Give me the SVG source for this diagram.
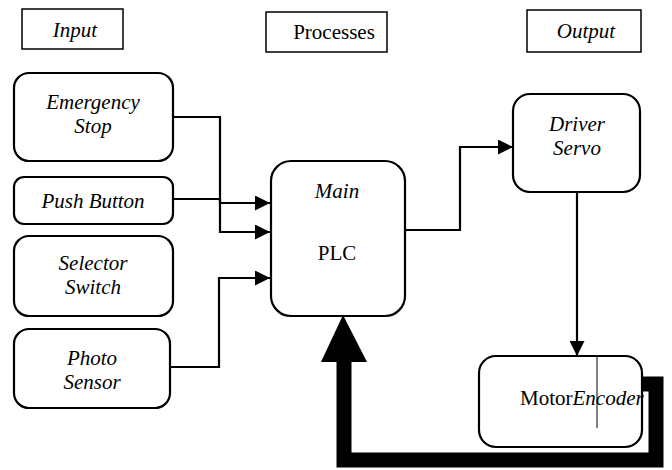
<svg xmlns="http://www.w3.org/2000/svg" width="672" height="470" viewBox="0 0 672 470">
<defs>
  <marker id="arr" markerUnits="userSpaceOnUse" markerWidth="15" markerHeight="15" refX="15" refY="7.5" orient="auto">
    <path d="M0,0 L15,7.5 L0,15 Z" fill="#000"/>
  </marker>
</defs>
<rect width="672" height="470" fill="#fff"/>

<g id="hdr-input"><rect fill="#fff" stroke="#000" stroke-width="1.5" x="22" y="9" width="101" height="40"/><text font-family="Times New Roman, Liberation Serif, serif" font-size="21" font-style="italic" text-anchor="middle" x="75" y="37">Input</text></g>
<g id="hdr-processes"><rect fill="#fff" stroke="#000" stroke-width="1.5" x="266" y="12" width="121" height="40"/><text font-family="Times New Roman, Liberation Serif, serif" font-size="21" text-anchor="middle" x="334" y="39">Processes</text></g>
<g id="hdr-output"><rect fill="#fff" stroke="#000" stroke-width="1.5" x="527" y="10" width="114" height="42"/><text font-family="Times New Roman, Liberation Serif, serif" font-size="21" font-style="italic" text-anchor="middle" x="586" y="38">Output</text></g>

<g id="connectors" fill="none" stroke="#000" stroke-width="2.2">
  <polyline points="173,117 220,117 220,232 270,232" marker-end="url(#arr)"/>
  <polyline points="173,199 220,199 220,203 270,203" marker-end="url(#arr)"/>
  <polyline points="170,367 219,367 219,278 270,278" marker-end="url(#arr)"/>
  <polyline points="405,230 460,230 460,147 513,147" marker-end="url(#arr)"/>
  <line x1="577" y1="192" x2="577" y2="356" marker-end="url(#arr)"/>
  <path d="M640 384 H656 V460 H344 V358" stroke-width="15" stroke-linejoin="miter"/>
  <polygon points="343,315 321,362 367,362" fill="#000" stroke="none"/>
</g>

<g id="n-emergency"><rect fill="#fff" stroke="#000" stroke-width="2.2" x="14" y="73" width="159" height="88" rx="15"/><text font-family="Times New Roman, Liberation Serif, serif" font-size="21" font-style="italic" text-anchor="middle" x="93" y="109">Emergency</text><text font-family="Times New Roman, Liberation Serif, serif" font-size="21" font-style="italic" text-anchor="middle" x="93" y="133">Stop</text></g>
<g id="n-push"><rect fill="#fff" stroke="#000" stroke-width="2.2" x="14" y="177" width="159" height="47" rx="10"/><text font-family="Times New Roman, Liberation Serif, serif" font-size="21" font-style="italic" text-anchor="middle" x="93" y="208">Push Button</text></g>
<g id="n-selector"><rect fill="#fff" stroke="#000" stroke-width="2.2" x="14" y="236" width="159" height="80" rx="15"/><text font-family="Times New Roman, Liberation Serif, serif" font-size="21" font-style="italic" text-anchor="middle" x="93" y="270">Selector</text><text font-family="Times New Roman, Liberation Serif, serif" font-size="21" font-style="italic" text-anchor="middle" x="93" y="294">Switch</text></g>
<g id="n-photo"><rect fill="#fff" stroke="#000" stroke-width="2.2" x="14" y="329" width="156" height="79" rx="15"/><text font-family="Times New Roman, Liberation Serif, serif" font-size="21" font-style="italic" text-anchor="middle" x="92" y="365">Photo</text><text font-family="Times New Roman, Liberation Serif, serif" font-size="21" font-style="italic" text-anchor="middle" x="92" y="389">Sensor</text></g>
<g id="n-plc"><rect fill="#fff" stroke="#000" stroke-width="2.2" x="271" y="161" width="134" height="155" rx="20"/><text font-family="Times New Roman, Liberation Serif, serif" font-size="21" font-style="italic" text-anchor="middle" x="337" y="198">Main</text><text font-family="Times New Roman, Liberation Serif, serif" font-size="21" text-anchor="middle" x="337" y="260">PLC</text></g>
<g id="n-driver"><rect fill="#fff" stroke="#000" stroke-width="2.2" x="513" y="94" width="127" height="98" rx="17"/><text font-family="Times New Roman, Liberation Serif, serif" font-size="21" font-style="italic" text-anchor="middle" x="577" y="131">Driver</text><text font-family="Times New Roman, Liberation Serif, serif" font-size="21" font-style="italic" text-anchor="middle" x="577" y="155">Servo</text></g>
<g id="n-motor"><rect fill="#fff" stroke="#000" stroke-width="2.2" x="479" y="356" width="163" height="91" rx="17"/><text font-family="Times New Roman, Liberation Serif, serif" font-size="21" x="520" y="405">Motor<tspan font-style="italic">Encoder</tspan></text><line x1="597" y1="356" x2="597" y2="428" stroke="#000" stroke-width="1"/></g>
</svg>
